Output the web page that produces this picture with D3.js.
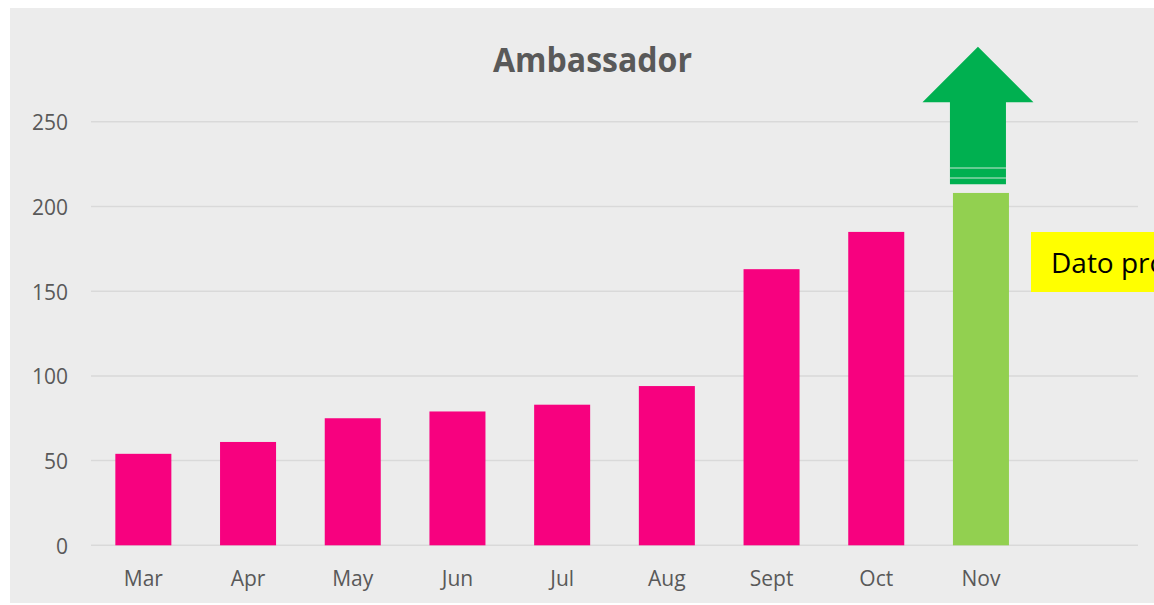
<!DOCTYPE html>
<html><head><meta charset="utf-8">
<script src="https://cdn.jsdelivr.net/npm/d3@7"></script>
<style>html,body{margin:0;padding:0;background:#fff;overflow:hidden}</style>
</head><body>
<svg id="c" width="1154" height="605"></svg>
<script>
const categories = ["Mar","Apr","May","Jun","Jul","Aug","Sept","Oct","Nov",""];
const values = [54,61,75,79,83,94,163,185,208,null];
const barColors = ["#f7017f","#f7017f","#f7017f","#f7017f","#f7017f","#f7017f","#f7017f","#f7017f","#92d050",null];
const yTicks = [0,50,100,150,200,250];
const title = "Ambassador";
const noteText = "Dato provisional";

const svg = d3.select("#c");
svg.append("rect").attr("x",10).attr("y",8).attr("width",1154).attr("height",595).attr("fill","#ececec");

const x = d3.scaleBand().domain(categories.map((d,i)=>i)).range([91,1138]).paddingInner(0.465).paddingOuter(0.2325);
const y = d3.scaleLinear().domain([0,250]).range([545.3,121.8]);

// gridlines
svg.append("g").selectAll("line").data(yTicks).join("line")
  .attr("x1",91).attr("x2",1138).attr("y1",d=>y(d)).attr("y2",d=>y(d))
  .attr("stroke","#d9d9d9").attr("stroke-width",1.5);

// y axis labels
const yAxis = d3.axisLeft(y).tickValues(yTicks).tickSize(0).tickPadding(0);
const ga = svg.append("g").attr("transform","translate(68,0)").call(yAxis);
ga.select(".domain").remove();
ga.selectAll("text").attr("font-family","'Open Sans', sans-serif").attr("font-size",21).attr("fill","#595959").attr("dy","0.38em");

// x axis labels
const xAxis = d3.axisBottom(x).tickFormat(i=>categories[i]).tickSize(0).tickPadding(0);
const gx = svg.append("g").attr("transform","translate(0,586)").call(xAxis);
gx.select(".domain").remove();
gx.selectAll("text").attr("font-family","'Open Sans', sans-serif").attr("font-size",21).attr("fill","#595959").attr("dy","0");

// bars
const data = values.map((v,i)=>({i,v,c:barColors[i]})).filter(d=>d.v!=null);
svg.append("g").selectAll("rect").data(data).join("rect")
  .attr("x",d=>x(d.i)).attr("width",x.bandwidth())
  .attr("y",d=>y(d.v)).attr("height",d=>y(0)-y(d.v))
  .attr("fill",d=>d.c);

// arrow above Nov
const nx = x(8) - 3, bw = x.bandwidth();
const cx = nx + bw/2;
const shaftBottom = 184.3, headBase = 102.3, apex = 46.7;
const arrow = svg.append("g");
arrow.append("path")
  .attr("d",`M${nx},${shaftBottom} L${nx},${headBase} L${cx-55.5},${headBase} L${cx},${apex} L${cx+55.5},${headBase} L${nx+bw},${headBase} L${nx+bw},${shaftBottom} Z`)
  .attr("fill","#00b050");
[168,178].forEach(yy=>arrow.append("line").attr("x1",nx).attr("x2",nx+bw).attr("y1",yy).attr("y2",yy).attr("stroke","#c9e6d3").attr("stroke-width",1));

// title
svg.append("text").attr("x",592.5).attr("y",72).attr("text-anchor","middle")
  .attr("font-family","'Open Sans', sans-serif").attr("font-weight","bold").attr("font-size",34)
  .attr("textLength",199).attr("lengthAdjust","spacingAndGlyphs")
  .attr("fill","#595959").text(title);

// note box
svg.append("rect").attr("x",1031).attr("y",232).attr("width",200).attr("height",60).attr("fill","#ffff00");
svg.append("text").attr("x",1051).attr("y",273).attr("font-family","'Open Sans', sans-serif").attr("font-size",28)
  .attr("fill","#000").text(noteText);
</script>
</body></html>
